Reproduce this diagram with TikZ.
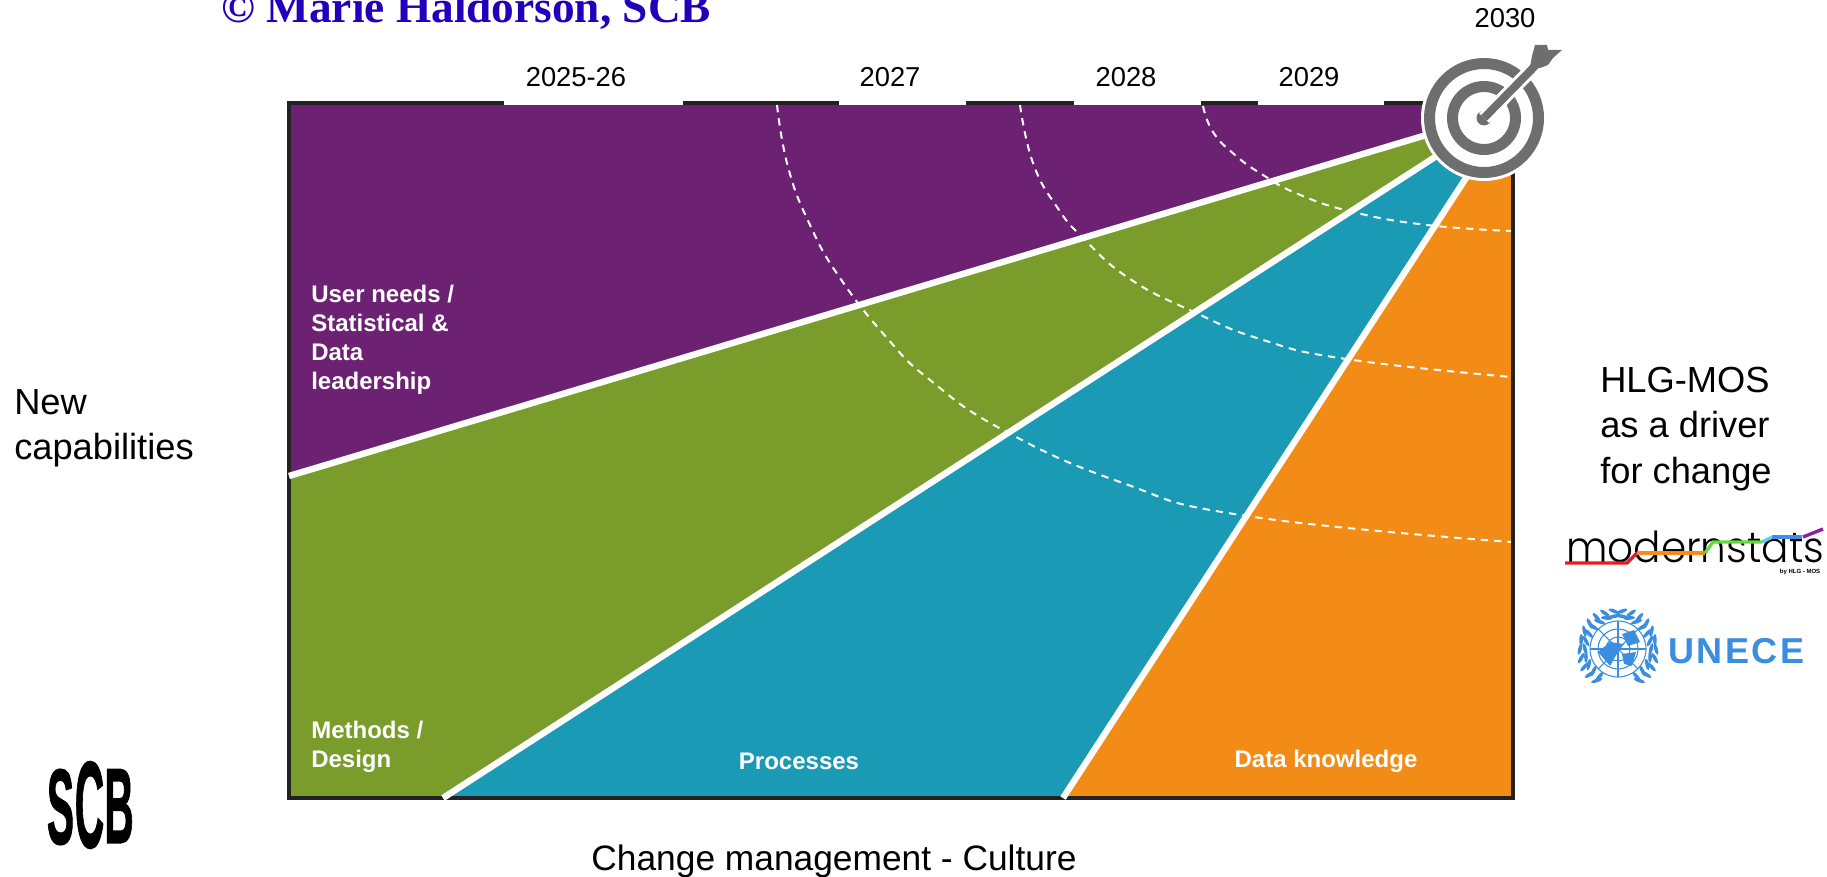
\documentclass[tikz,border=0pt]{standalone}
\usepackage{fontspec}
\setmainfont{Liberation Sans}
\newfontfamily\titlefont{Liberation Serif}
\newfontfamily\modfont{Poppins Light}
\newfontfamily\scbfont[FakeBold=1.5]{Liberation Sans Bold}
\newfontfamily\unfont[LetterSpace=7]{Liberation Sans Bold}
\definecolor{bandpurple}{HTML}{6C2173}
\definecolor{bandgreen}{HTML}{7A9C2B}
\definecolor{bandblue}{HTML}{1A9AB5}
\definecolor{bandorange}{HTML}{F28C17}
\definecolor{framegrey}{HTML}{222222}
\definecolor{targetgrey}{HTML}{6E6E6E}
\definecolor{titleblue}{HTML}{2200BB}
\definecolor{unblue}{HTML}{3B8EDE}
\definecolor{modred}{HTML}{F01818}
\definecolor{modorange}{HTML}{F58A1F}
\definecolor{modgreen}{HTML}{5CDD3C}
\definecolor{modcyan}{HTML}{5CD0F0}
\definecolor{modblue}{HTML}{3F8FE8}
\definecolor{modpurple}{HTML}{8E1FA0}
\tikzset{
	big/.style={font=\fontsize{27.2}{34}\selectfont, align=left, anchor=west, inner sep=0},
	year/.style={font=\fontsize{20.5}{24}\selectfont, inner sep=0},
	band/.style={font=\fontsize{18}{21.75}\selectfont\bfseries, text=white, align=left, inner sep=0},
	split/.style={white, line width=4.8pt},
	ring/.style={white, line width=1.5pt, dash pattern=on 5.5pt off 4.5pt},
	gap/.style={fill=white, draw=none},
	leaf/.style={fill=unblue, draw=none},
	modline/.style={line width=2.5pt},
	scbletter/.style={inner sep=0, xscale=0.38}
}
\begin{document}
\begin{tikzpicture}[x=0.75pt, y=-0.75pt]
	\useasboundingbox (0, 0) rectangle (1827, 877);

	\coordinate (tl) at (289, 103);
	\coordinate (tr) at (1513, 103);
	\coordinate (br) at (1513, 798);
	\coordinate (bl) at (289, 798);
	\coordinate (pg) at (289, 476);
	\coordinate (gb) at (443, 798);
	\coordinate (bo) at (1063, 798);
	\coordinate (hub) at (1484, 118);
	\coordinate (hubpg) at (1483, 118);
	\coordinate (hubgb) at (1483, 126);
	\coordinate (hubbo) at (1505, 118);

	\fill[bandpurple] (tl) -- (tr) -- (br) -- (bl) -- cycle;
	\fill[bandgreen] (pg) -- (hubpg) -- (tr) -- (br) -- (bl) -- cycle;
	\fill[bandblue] (gb) -- (hubgb) -- (tr) -- (br) -- cycle;
	\fill[bandorange] (bo) -- (hubbo) -- (tr) -- (br) -- cycle;
	\draw[framegrey, line width=3pt] (tl) -- (tr) -- (br) -- (bl) -- cycle;

	\fill[gap] (504, 96) rectangle (683, 105);
	\fill[gap] (839, 96) rectangle (966, 105);
	\fill[gap] (1074, 96) rectangle (1201, 105);
	\fill[gap] (1258, 96) rectangle (1384, 105);

	\draw[ring] plot[smooth, tension=0.8] coordinates { (777, 105) (788, 167) (810, 225) (840, 278) (887, 338) (930, 380) (1003, 430) (1120, 482) (1247, 516) (1511, 542) };
	\draw[ring] plot[smooth, tension=0.8] coordinates { (1020, 105) (1033, 163) (1057, 207) (1084, 239) (1130, 279) (1194, 312) (1260, 339) (1346, 359) (1511, 377) };
	\draw[ring] plot[smooth, tension=0.8] coordinates { (1203, 106) (1213, 132) (1235, 155) (1263, 175) (1298, 194) (1353, 212) (1427, 225) (1511, 231) };

	\draw[split] (pg) -- (hubpg);
	\draw[split] (gb) -- (hubgb);
	\draw[split] (bo) -- (hubbo);

	\fill[white] (hub) circle (63);
	\draw[targetgrey, line width=8.25pt] (hub) circle (54.5);
	\draw[targetgrey, line width=8.25pt] (hub) circle (31.5);
	\fill[targetgrey] (hub) circle (7.5);
	\draw[white, line width=10.5pt] (hub) -- (1532, 69);
	\draw[targetgrey, line width=6pt] (hub) -- (1536, 65);
	\fill[targetgrey] (1535, 45) -- (1547, 45) -- (1548, 50) -- (1562, 50) -- (1553, 58) -- (1548, 65) -- (1540, 68) -- (1530, 67) -- (1532, 56) -- cycle;

	\node[year] (y2526) at (576, 77) {2025-26};
	\node[year] (y2027) at (890, 77) {2027};
	\node[year] (y2028) at (1126, 77) {2028};
	\node[year] (y2029) at (1309, 77) {2029};
	\node[year] (y2030) at (1505, 18) {2030};

	\node[inner sep=0, anchor=base west, text=titleblue, font=\fontsize{34}{38}\selectfont\titlefont\bfseries] (title) at (221, 23) {© Marie Haldorson, SCB};

	\node[band, anchor=west] (needs) at (311, 340) {User needs /\\Statistical \&\\Data\\leadership};
	\node[band, anchor=west] (methods) at (311, 747) {Methods /\\Design};
	\node[band] (processes) at (799, 761) {Processes};
	\node[band] (knowledge) at (1326, 761) {Data knowledge};

	\node[big] (capab) at (14, 428) {New\\capabilities};
	\node[big] (driver) at (1600, 429) {HLG-MOS\\as a driver\\for change};
	\node[big, anchor=center, font=\fontsize{26.5}{34}\selectfont] (culture) at (834, 861) {Change management - Culture};

	\node[inner sep=0, anchor=base west, xscale=0.95, font=\fontsize{32}{36}\selectfont\modfont] (modern) at (1566, 562) {modernstats};
	\draw[modline, modred] (1565, 563) -- (1627, 563) -- (1637, 553);
	\draw[modline, modorange] (1637, 553) -- (1705, 553);
	\draw[modline, modgreen] (1705, 553) -- (1713, 542) -- (1762, 542);
	\draw[modline, modcyan] (1762, 542) -- (1772, 537);
	\draw[modline, modblue] (1772, 537) -- (1802, 537);
	\draw[modline, modpurple] (1803, 537) -- (1823, 529);
	\node[inner sep=0, font=\fontsize{4.5}{5}\selectfont\bfseries] (hlg) at (1800, 572) {by HLG - MOS};

	\node[inner sep=0, anchor=west, text=unblue, font=\fontsize{27}{30}\selectfont\unfont] (unece) at (1668, 651) {UNECE};
	\coordinate (un) at (1618, 649);
	\begin{scope}[unblue, line width=0.8pt]
		\draw (un) circle (28);
		\draw (un) circle (20);
		\draw (un) circle (12);
		\foreach \a in {0, 45, ..., 315}
			\draw (un) -- ++(\a:28);
		\fill (1598, 652) -- (1610, 642) -- (1624, 644) -- (1618, 652) -- (1610, 666) -- cycle;
		\fill (1622, 654) -- (1636, 652) -- (1632, 666) -- (1624, 664) -- cycle;
		\fill (1622, 634) -- (1634, 630) -- (1640, 642) -- (1628, 646) -- cycle;
		\foreach \a in {-84, -70, ..., 56} {
			\fill[leaf] (un) ++(\a:33) ellipse[x radius=1.8, y radius=6, rotate=\a-15];
			\fill[leaf] (un) ++(\a:38) ellipse[x radius=1.8, y radius=6, rotate=\a+15];
			\fill[leaf] (un) ++(180-\a:33) ellipse[x radius=1.8, y radius=6, rotate=15-\a];
			\fill[leaf] (un) ++(180-\a:38) ellipse[x radius=1.8, y radius=6, rotate=-15-\a];
		}
	\end{scope}

	\node[scbletter, font=\fontsize{80}{90}\selectfont\scbfont] (scbs) at (60.5, 807) {S};
	\node[scbletter, yscale=1.15, font=\fontsize{80}{90}\selectfont\scbfont] (scbc) at (89.5, 805) {C};
	\node[scbletter, font=\fontsize{80}{90}\selectfont\scbfont] (scbb) at (119, 806) {B};
\end{tikzpicture}
\end{document}
